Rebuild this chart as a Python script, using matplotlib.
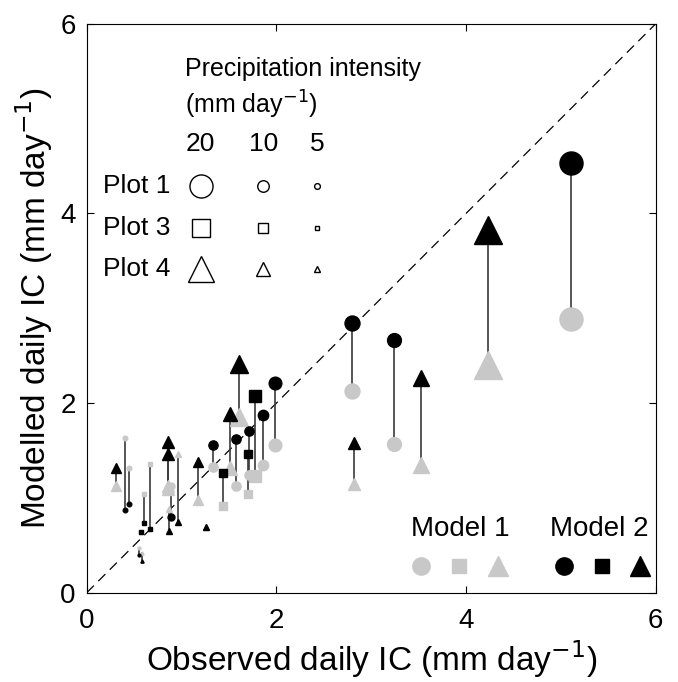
import numpy as np
import matplotlib
matplotlib.use("Agg")
import matplotlib.pyplot as plt

plt.rcParams['font.family'] = ['Liberation Sans', 'DejaVu Sans']

# observed vs modelled daily interception, one pair (model 1, model 2) per event
shapes = ['o', '^', 'o', 'o', '^', '^', 'o', 'o', '^', 's', '^', 'o', 'o', 'o', 's', 's',
          '^', '^', '^', '^', 'o', 'o', 's', 's', 's', 'o', '^', '^', 'o', '^', '^']
observed = [5.11, 4.23, 2.80, 3.24, 3.53, 2.82, 1.98, 1.86, 1.61, 1.77, 1.51, 1.71, 1.57, 1.33, 1.70, 1.44,
            1.17, 0.86, 0.86, 0.31, 0.40, 0.45, 0.60, 0.67, 0.57, 0.55, 0.58, 0.96, 0.89, 0.87, 1.26]
model1 = [2.89, 2.40, 2.13, 1.57, 1.35, 1.15, 1.56, 1.35, 1.85, 1.23, 1.32, 1.24, 1.13, 1.33, 1.04, 0.91,
          0.98, 1.09, 1.12, 1.12, 1.63, 1.32, 1.04, 1.36, 0.64, 0.47, 0.42, 1.46, 1.12, 0.88, 0.69]
model2 = [4.53, 3.83, 2.84, 2.67, 2.26, 1.58, 2.21, 1.87, 2.41, 2.07, 1.88, 1.71, 1.62, 1.56, 1.46, 1.26,
          1.38, 1.59, 1.46, 1.32, 0.87, 0.94, 0.73, 0.67, 0.64, 0.40, 0.33, 0.75, 0.80, 0.65, 0.69]
intensity = [20, 21, 13, 12, 13, 9, 11, 9, 14, 13, 11, 8, 8, 8, 8, 9,
             8, 9, 9, 8, 4, 4, 5, 5, 5, 2.5, 2.5, 4, 6, 4, 4]

legend_sizes = [20, 10, 5]
legend_rows = ['Plot 1', 'Plot 3', 'Plot 4']
legend_shapes = ['o', 's', '^']

GRAY = '#c8c8c8'
shape_scale = {'o': 1.0, 's': 0.8, '^': 1.13}


def msize(shape, val):
    return val * 0.83 * shape_scale[shape]


fig = plt.figure(figsize=(6.78, 6.82), dpi=100)
ax = fig.add_axes([0.128, 0.131, 0.839, 0.834])

ax.plot([0, 6], [0, 6], color='black', lw=0.9, dashes=(8, 5), zorder=1)

for s, x, a, b, v in zip(shapes, observed, model1, model2, intensity):
    ax.plot([x, x], [a, b], color='#3a3a3a', lw=1.2, zorder=2)
for s, x, a, v in zip(shapes, observed, model1, intensity):
    ax.plot(x, a, marker=s, ms=msize(s, v), color=GRAY, mec=GRAY, ls='none', zorder=3)
for s, x, b, v in zip(shapes, observed, model2, intensity):
    ax.plot(x, b, marker=s, ms=msize(s, v), color='black', mec='black', ls='none', zorder=4)

# intensity legend (in data coordinates)
ax.text(1.04, 5.52, 'Precipitation intensity', fontsize=18, va='center', ha='left')
ax.text(1.04, 5.15, '(mm day$^{-1}$)', fontsize=18, va='center', ha='left')
col_x = [1.20, 1.86, 2.43]
row_y = [4.29, 3.85, 3.41]
for cx, v in zip(col_x, legend_sizes):
    ax.text(cx, 4.73, str(v), fontsize=19, ha='center', va='center')
for ry, lab, s in zip(row_y, legend_rows, legend_shapes):
    ax.text(0.17, ry, lab, fontsize=19, ha='left', va='center')
    for cx, v in zip(col_x, legend_sizes):
        ax.plot(cx, ry, marker=s, ms=msize(s, v), mfc='none', mec='black', mew=1.0, ls='none')

# model legend
ax.text(3.94, 0.67, 'Model 1', fontsize=20, ha='center', va='center')
ax.text(5.41, 0.67, 'Model 2', fontsize=20, ha='center', va='center')
for i, s in enumerate(legend_shapes):
    ax.plot(3.52 + 0.41 * i, 0.28, marker=s, ms=msize(s, 15), color=GRAY, ls='none')
    ax.plot(5.03 + 0.40 * i, 0.28, marker=s, ms=msize(s, 15), color='black', ls='none')

ax.set_xlim(0, 6)
ax.set_ylim(0, 6)
ax.set_xticks([0, 2, 4, 6])
ax.set_yticks([0, 2, 4, 6])
ax.tick_params(direction='in', top=True, right=True, length=5, labelsize=20, width=0.8)
ax.tick_params(axis='x', pad=11)
ax.tick_params(axis='y', pad=8)
for sp in ax.spines.values():
    sp.set_linewidth(0.8)
ax.set_xlabel('Observed daily IC (mm day$^{-1}$)', fontsize=24, labelpad=3)
ax.set_ylabel('Modelled daily IC (mm day$^{-1}$)', fontsize=24, labelpad=4)

fig.savefig('out.png', dpi=100)
